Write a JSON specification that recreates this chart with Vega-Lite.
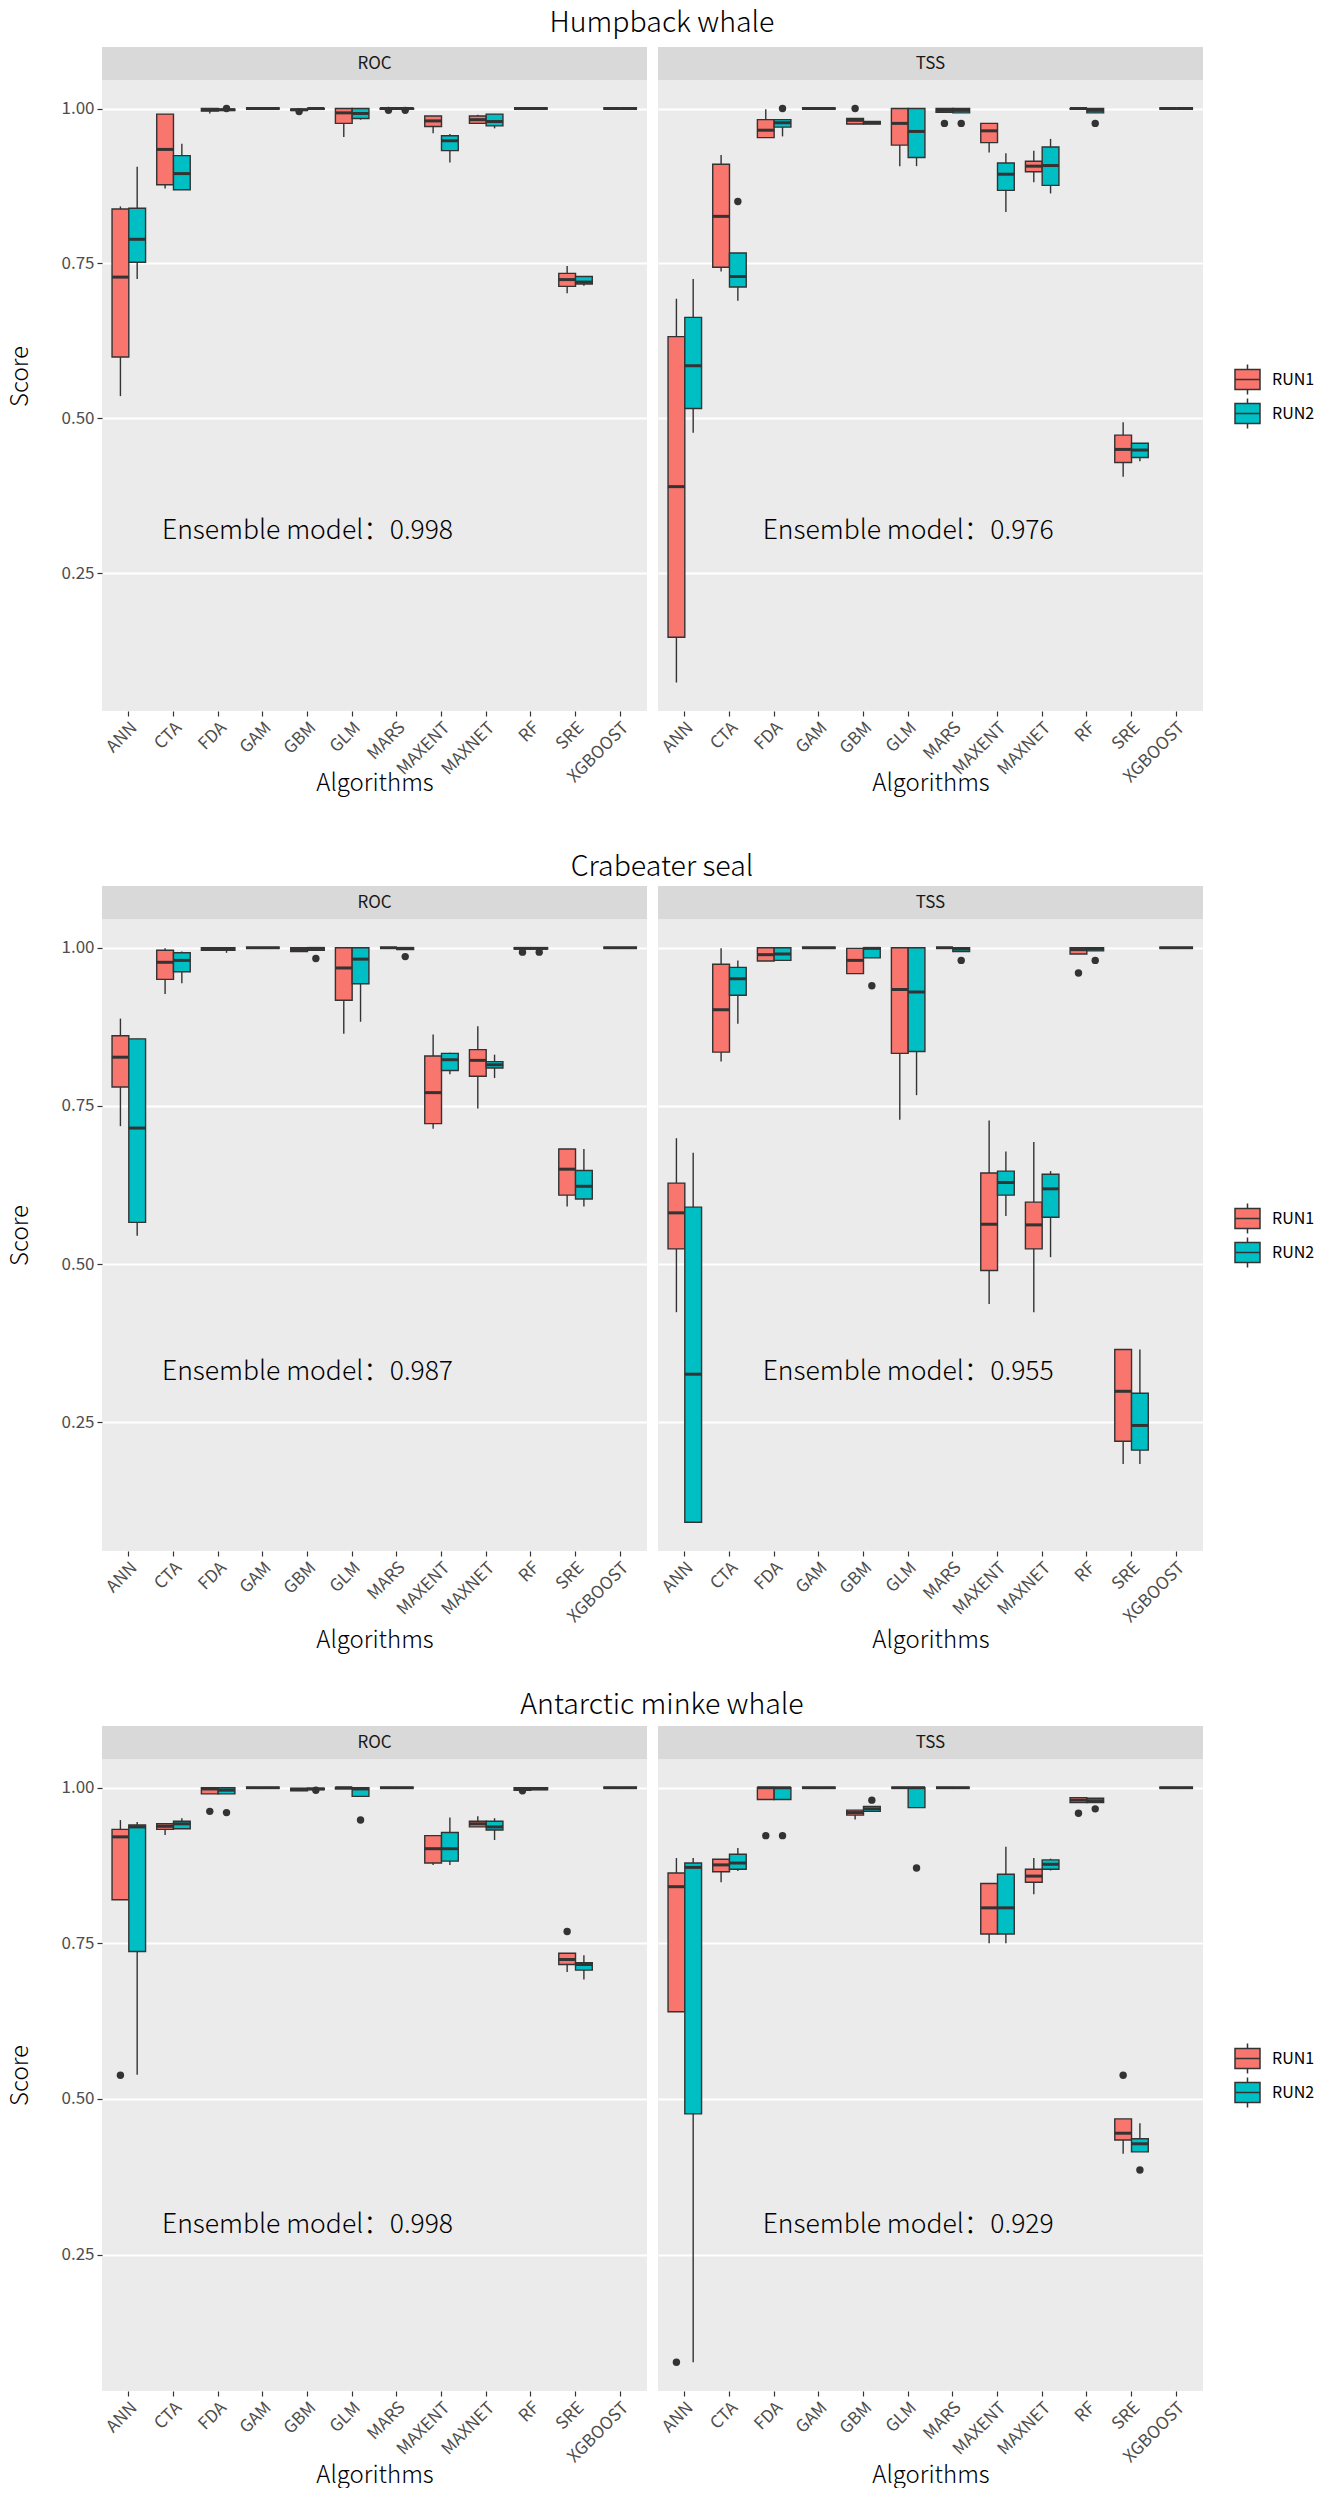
{
  "$schema": "https://vega.github.io/schema/vega-lite/v6.json",
  "background": "#FFFFFF",
  "padding": {"left": 8, "top": 8, "right": 0, "bottom": 0},
  "data": {"name": "d"},
  "config": {
    "font": "Noto Sans CJK SC",
    "view": {"stroke": null},
    "axis": {"domain": false, "tickColor": "#333333", "tickSize": 5, "tickWidth": 1.2, "labelColor": "#4D4D4D", "labelFontSize": 17, "labelPadding": 3, "titleFontSize": 24, "titleFontWeight": 300, "titleColor": "#000000", "gridColor": "#FFFFFF", "gridWidth": 2},
    "axisX": {"labelAngle": -45, "labelAlign": "right", "labelBaseline": "top", "bandPosition": 0.5},
    "legend": {"title": null, "orient": "none", "legendX": 1132, "legendY": 319, "symbolType": "M-1,-0.8H1V0.8H-1Z M-1,0H1 M0,-0.8V-1.2 M0,0.8V1.2", "symbolSize": 625, "symbolStrokeColor": "#333333", "symbolStrokeWidth": 1.5, "labelFontSize": 16, "labelColor": "#000000", "rowPadding": -3, "labelOffset": 11}
  },
  "datasets": {
    "d": [
      {"s":"H","m":"ROC","a":"ANN","r":"RUN1","lo":0.536,"q1":0.599,"md":0.728,"q3":0.838,"hi":0.842},
      {"s":"H","m":"ROC","a":"ANN","r":"RUN2","lo":0.725,"q1":0.752,"md":0.789,"q3":0.839,"hi":0.906},
      {"s":"H","m":"ROC","a":"CTA","r":"RUN1","lo":0.871,"q1":0.877,"md":0.934,"q3":0.991,"hi":0.991},
      {"s":"H","m":"ROC","a":"CTA","r":"RUN2","lo":0.869,"q1":0.869,"md":0.895,"q3":0.924,"hi":0.943},
      {"s":"H","m":"ROC","a":"FDA","r":"RUN1","lo":0.992,"q1":0.996,"md":0.998,"q3":1,"hi":1},
      {"s":"H","m":"ROC","a":"FDA","r":"RUN2","lo":0.997,"q1":0.997,"md":0.998,"q3":0.999,"hi":0.999},
      {"s":"H","m":"ROC","a":"FDA","r":"RUN2","o":1},
      {"s":"H","m":"ROC","a":"GAM","r":"RUN1","lo":1,"q1":1,"md":1,"q3":1,"hi":1},
      {"s":"H","m":"ROC","a":"GAM","r":"RUN2","lo":1,"q1":1,"md":1,"q3":1,"hi":1},
      {"s":"H","m":"ROC","a":"GBM","r":"RUN1","lo":0.997,"q1":0.997,"md":0.998,"q3":0.999,"hi":0.999},
      {"s":"H","m":"ROC","a":"GBM","r":"RUN1","o":0.995},
      {"s":"H","m":"ROC","a":"GBM","r":"RUN2","lo":0.999,"q1":0.999,"md":1,"q3":1,"hi":1},
      {"s":"H","m":"ROC","a":"GLM","r":"RUN1","lo":0.954,"q1":0.976,"md":0.993,"q3":1,"hi":1},
      {"s":"H","m":"ROC","a":"GLM","r":"RUN2","lo":0.982,"q1":0.984,"md":0.992,"q3":1,"hi":1},
      {"s":"H","m":"ROC","a":"MARS","r":"RUN1","lo":0.999,"q1":0.999,"md":1,"q3":1,"hi":1},
      {"s":"H","m":"ROC","a":"MARS","r":"RUN1","o":0.997},
      {"s":"H","m":"ROC","a":"MARS","r":"RUN2","lo":0.999,"q1":0.999,"md":1,"q3":1,"hi":1},
      {"s":"H","m":"ROC","a":"MARS","r":"RUN2","o":0.997},
      {"s":"H","m":"ROC","a":"MAXENT","r":"RUN1","lo":0.960,"q1":0.971,"md":0.980,"q3":0.988,"hi":0.988},
      {"s":"H","m":"ROC","a":"MAXENT","r":"RUN2","lo":0.913,"q1":0.932,"md":0.948,"q3":0.956,"hi":0.959},
      {"s":"H","m":"ROC","a":"MAXNET","r":"RUN1","lo":0.976,"q1":0.976,"md":0.982,"q3":0.988,"hi":0.990},
      {"s":"H","m":"ROC","a":"MAXNET","r":"RUN2","lo":0.968,"q1":0.972,"md":0.979,"q3":0.991,"hi":0.991},
      {"s":"H","m":"ROC","a":"RF","r":"RUN1","lo":1,"q1":1,"md":1,"q3":1,"hi":1},
      {"s":"H","m":"ROC","a":"RF","r":"RUN2","lo":1,"q1":1,"md":1,"q3":1,"hi":1},
      {"s":"H","m":"ROC","a":"SRE","r":"RUN1","lo":0.702,"q1":0.713,"md":0.724,"q3":0.734,"hi":0.746},
      {"s":"H","m":"ROC","a":"SRE","r":"RUN2","lo":0.714,"q1":0.717,"md":0.720,"q3":0.729,"hi":0.729},
      {"s":"H","m":"ROC","a":"XGBOOST","r":"RUN1","lo":1,"q1":1,"md":1,"q3":1,"hi":1},
      {"s":"H","m":"ROC","a":"XGBOOST","r":"RUN2","lo":1,"q1":1,"md":1,"q3":1,"hi":1},
      {"s":"H","m":"ROC","a":"GBM","ty":0.318,"t":"Ensemble model：0.998"},

      {"s":"H","m":"TSS","a":"ANN","r":"RUN1","lo":0.074,"q1":0.147,"md":0.390,"q3":0.632,"hi":0.693},
      {"s":"H","m":"TSS","a":"ANN","r":"RUN2","lo":0.477,"q1":0.516,"md":0.585,"q3":0.663,"hi":0.725},
      {"s":"H","m":"TSS","a":"CTA","r":"RUN1","lo":0.737,"q1":0.744,"md":0.826,"q3":0.910,"hi":0.925},
      {"s":"H","m":"TSS","a":"CTA","r":"RUN2","lo":0.690,"q1":0.712,"md":0.729,"q3":0.767,"hi":0.767},
      {"s":"H","m":"TSS","a":"CTA","r":"RUN2","o":0.850},
      {"s":"H","m":"TSS","a":"FDA","r":"RUN1","lo":0.953,"q1":0.953,"md":0.965,"q3":0.982,"hi":0.999},
      {"s":"H","m":"TSS","a":"FDA","r":"RUN2","lo":0.955,"q1":0.970,"md":0.977,"q3":0.982,"hi":0.982},
      {"s":"H","m":"TSS","a":"FDA","r":"RUN2","o":1},
      {"s":"H","m":"TSS","a":"GAM","r":"RUN1","lo":1,"q1":1,"md":1,"q3":1,"hi":1},
      {"s":"H","m":"TSS","a":"GAM","r":"RUN2","lo":1,"q1":1,"md":1,"q3":1,"hi":1},
      {"s":"H","m":"TSS","a":"GBM","r":"RUN1","lo":0.975,"q1":0.975,"md":0.981,"q3":0.984,"hi":0.984},
      {"s":"H","m":"TSS","a":"GBM","r":"RUN1","o":1},
      {"s":"H","m":"TSS","a":"GBM","r":"RUN2","lo":0.975,"q1":0.975,"md":0.977,"q3":0.979,"hi":0.979},
      {"s":"H","m":"TSS","a":"GLM","r":"RUN1","lo":0.907,"q1":0.941,"md":0.976,"q3":1,"hi":1},
      {"s":"H","m":"TSS","a":"GLM","r":"RUN2","lo":0.907,"q1":0.921,"md":0.963,"q3":1,"hi":1},
      {"s":"H","m":"TSS","a":"MARS","r":"RUN1","lo":0.994,"q1":0.994,"md":0.997,"q3":1,"hi":1},
      {"s":"H","m":"TSS","a":"MARS","r":"RUN1","o":0.976},
      {"s":"H","m":"TSS","a":"MARS","r":"RUN2","lo":0.993,"q1":0.993,"md":0.997,"q3":1,"hi":1},
      {"s":"H","m":"TSS","a":"MARS","r":"RUN2","o":0.976},
      {"s":"H","m":"TSS","a":"MAXENT","r":"RUN1","lo":0.929,"q1":0.945,"md":0.964,"q3":0.976,"hi":0.976},
      {"s":"H","m":"TSS","a":"MAXENT","r":"RUN2","lo":0.833,"q1":0.868,"md":0.894,"q3":0.912,"hi":0.928},
      {"s":"H","m":"TSS","a":"MAXNET","r":"RUN1","lo":0.881,"q1":0.898,"md":0.907,"q3":0.915,"hi":0.932},
      {"s":"H","m":"TSS","a":"MAXNET","r":"RUN2","lo":0.863,"q1":0.876,"md":0.908,"q3":0.938,"hi":0.951},
      {"s":"H","m":"TSS","a":"RF","r":"RUN1","lo":0.999,"q1":0.999,"md":1,"q3":1,"hi":1},
      {"s":"H","m":"TSS","a":"RF","r":"RUN2","lo":0.993,"q1":0.993,"md":0.997,"q3":1,"hi":1},
      {"s":"H","m":"TSS","a":"RF","r":"RUN2","o":0.976},
      {"s":"H","m":"TSS","a":"SRE","r":"RUN1","lo":0.406,"q1":0.429,"md":0.450,"q3":0.473,"hi":0.494},
      {"s":"H","m":"TSS","a":"SRE","r":"RUN2","lo":0.431,"q1":0.437,"md":0.449,"q3":0.460,"hi":0.460},
      {"s":"H","m":"TSS","a":"XGBOOST","r":"RUN1","lo":1,"q1":1,"md":1,"q3":1,"hi":1},
      {"s":"H","m":"TSS","a":"XGBOOST","r":"RUN2","lo":1,"q1":1,"md":1,"q3":1,"hi":1},
      {"s":"H","m":"TSS","a":"GLM","ty":0.318,"t":"Ensemble model：0.976"},

      {"s":"C","m":"ROC","a":"ANN","r":"RUN1","lo":0.718,"q1":0.780,"md":0.827,"q3":0.861,"hi":0.888},
      {"s":"C","m":"ROC","a":"ANN","r":"RUN2","lo":0.545,"q1":0.566,"md":0.715,"q3":0.856,"hi":0.856},
      {"s":"C","m":"ROC","a":"CTA","r":"RUN1","lo":0.927,"q1":0.950,"md":0.977,"q3":0.996,"hi":0.999},
      {"s":"C","m":"ROC","a":"CTA","r":"RUN2","lo":0.944,"q1":0.962,"md":0.980,"q3":0.992,"hi":0.994},
      {"s":"C","m":"ROC","a":"FDA","r":"RUN1","lo":0.995,"q1":0.996,"md":0.998,"q3":1,"hi":1},
      {"s":"C","m":"ROC","a":"FDA","r":"RUN2","lo":0.992,"q1":0.996,"md":0.998,"q3":1,"hi":1},
      {"s":"C","m":"ROC","a":"GAM","r":"RUN1","lo":1,"q1":1,"md":1,"q3":1,"hi":1},
      {"s":"C","m":"ROC","a":"GAM","r":"RUN2","lo":1,"q1":1,"md":1,"q3":1,"hi":1},
      {"s":"C","m":"ROC","a":"GBM","r":"RUN1","lo":0.994,"q1":0.994,"md":0.997,"q3":1,"hi":1},
      {"s":"C","m":"ROC","a":"GBM","r":"RUN2","lo":0.996,"q1":0.996,"md":0.999,"q3":1,"hi":1},
      {"s":"C","m":"ROC","a":"GBM","r":"RUN2","o":0.983},
      {"s":"C","m":"ROC","a":"GLM","r":"RUN1","lo":0.864,"q1":0.917,"md":0.968,"q3":1,"hi":1},
      {"s":"C","m":"ROC","a":"GLM","r":"RUN2","lo":0.883,"q1":0.943,"md":0.982,"q3":1,"hi":1},
      {"s":"C","m":"ROC","a":"MARS","r":"RUN1","lo":1,"q1":1,"md":1,"q3":1,"hi":1},
      {"s":"C","m":"ROC","a":"MARS","r":"RUN2","lo":0.997,"q1":0.997,"md":0.999,"q3":1,"hi":1},
      {"s":"C","m":"ROC","a":"MARS","r":"RUN2","o":0.986},
      {"s":"C","m":"ROC","a":"MAXENT","r":"RUN1","lo":0.714,"q1":0.722,"md":0.771,"q3":0.829,"hi":0.863},
      {"s":"C","m":"ROC","a":"MAXENT","r":"RUN2","lo":0.800,"q1":0.806,"md":0.823,"q3":0.833,"hi":0.834},
      {"s":"C","m":"ROC","a":"MAXNET","r":"RUN1","lo":0.746,"q1":0.797,"md":0.822,"q3":0.839,"hi":0.876},
      {"s":"C","m":"ROC","a":"MAXNET","r":"RUN2","lo":0.794,"q1":0.810,"md":0.815,"q3":0.820,"hi":0.831},
      {"s":"C","m":"ROC","a":"RF","r":"RUN1","lo":0.998,"q1":0.998,"md":0.999,"q3":1,"hi":1},
      {"s":"C","m":"ROC","a":"RF","r":"RUN1","o":0.993},
      {"s":"C","m":"ROC","a":"RF","r":"RUN2","lo":0.998,"q1":0.998,"md":0.999,"q3":1,"hi":1},
      {"s":"C","m":"ROC","a":"RF","r":"RUN2","o":0.993},
      {"s":"C","m":"ROC","a":"SRE","r":"RUN1","lo":0.591,"q1":0.609,"md":0.650,"q3":0.682,"hi":0.682},
      {"s":"C","m":"ROC","a":"SRE","r":"RUN2","lo":0.591,"q1":0.603,"md":0.623,"q3":0.648,"hi":0.682},
      {"s":"C","m":"ROC","a":"XGBOOST","r":"RUN1","lo":1,"q1":1,"md":1,"q3":1,"hi":1},
      {"s":"C","m":"ROC","a":"XGBOOST","r":"RUN2","lo":1,"q1":1,"md":1,"q3":1,"hi":1},
      {"s":"C","m":"ROC","a":"GBM","ty":0.33,"t":"Ensemble model：0.987"},

      {"s":"C","m":"TSS","a":"ANN","r":"RUN1","lo":0.424,"q1":0.524,"md":0.581,"q3":0.628,"hi":0.699},
      {"s":"C","m":"TSS","a":"ANN","r":"RUN2","lo":0.092,"q1":0.092,"md":0.326,"q3":0.590,"hi":0.676},
      {"s":"C","m":"TSS","a":"CTA","r":"RUN1","lo":0.820,"q1":0.835,"md":0.902,"q3":0.974,"hi":0.999},
      {"s":"C","m":"TSS","a":"CTA","r":"RUN2","lo":0.880,"q1":0.925,"md":0.951,"q3":0.969,"hi":0.980},
      {"s":"C","m":"TSS","a":"FDA","r":"RUN1","lo":0.979,"q1":0.979,"md":0.989,"q3":1,"hi":1},
      {"s":"C","m":"TSS","a":"FDA","r":"RUN2","lo":0.980,"q1":0.980,"md":0.990,"q3":1,"hi":1},
      {"s":"C","m":"TSS","a":"GAM","r":"RUN1","lo":1,"q1":1,"md":1,"q3":1,"hi":1},
      {"s":"C","m":"TSS","a":"GAM","r":"RUN2","lo":1,"q1":1,"md":1,"q3":1,"hi":1},
      {"s":"C","m":"TSS","a":"GBM","r":"RUN1","lo":0.959,"q1":0.959,"md":0.980,"q3":0.999,"hi":0.999},
      {"s":"C","m":"TSS","a":"GBM","r":"RUN2","lo":0.984,"q1":0.984,"md":0.999,"q3":1,"hi":1},
      {"s":"C","m":"TSS","a":"GBM","r":"RUN2","o":0.940},
      {"s":"C","m":"TSS","a":"GLM","r":"RUN1","lo":0.728,"q1":0.833,"md":0.934,"q3":1,"hi":1},
      {"s":"C","m":"TSS","a":"GLM","r":"RUN2","lo":0.767,"q1":0.836,"md":0.930,"q3":1,"hi":1},
      {"s":"C","m":"TSS","a":"MARS","r":"RUN1","lo":1,"q1":1,"md":1,"q3":1,"hi":1},
      {"s":"C","m":"TSS","a":"MARS","r":"RUN2","lo":0.994,"q1":0.994,"md":0.998,"q3":1,"hi":1},
      {"s":"C","m":"TSS","a":"MARS","r":"RUN2","o":0.980},
      {"s":"C","m":"TSS","a":"MAXENT","r":"RUN1","lo":0.437,"q1":0.490,"md":0.563,"q3":0.644,"hi":0.727},
      {"s":"C","m":"TSS","a":"MAXENT","r":"RUN2","lo":0.576,"q1":0.609,"md":0.629,"q3":0.647,"hi":0.678},
      {"s":"C","m":"TSS","a":"MAXNET","r":"RUN1","lo":0.424,"q1":0.524,"md":0.562,"q3":0.598,"hi":0.693},
      {"s":"C","m":"TSS","a":"MAXNET","r":"RUN2","lo":0.511,"q1":0.574,"md":0.619,"q3":0.642,"hi":0.647},
      {"s":"C","m":"TSS","a":"RF","r":"RUN1","lo":0.990,"q1":0.990,"md":0.997,"q3":1,"hi":1},
      {"s":"C","m":"TSS","a":"RF","r":"RUN1","o":0.960},
      {"s":"C","m":"TSS","a":"RF","r":"RUN2","lo":0.995,"q1":0.995,"md":0.998,"q3":1,"hi":1},
      {"s":"C","m":"TSS","a":"RF","r":"RUN2","o":0.980},
      {"s":"C","m":"TSS","a":"SRE","r":"RUN1","lo":0.184,"q1":0.220,"md":0.299,"q3":0.365,"hi":0.365},
      {"s":"C","m":"TSS","a":"SRE","r":"RUN2","lo":0.184,"q1":0.206,"md":0.245,"q3":0.296,"hi":0.365},
      {"s":"C","m":"TSS","a":"XGBOOST","r":"RUN1","lo":1,"q1":1,"md":1,"q3":1,"hi":1},
      {"s":"C","m":"TSS","a":"XGBOOST","r":"RUN2","lo":1,"q1":1,"md":1,"q3":1,"hi":1},
      {"s":"C","m":"TSS","a":"GLM","ty":0.33,"t":"Ensemble model：0.955"},

      {"s":"A","m":"ROC","a":"ANN","r":"RUN1","lo":0.820,"q1":0.820,"md":0.921,"q3":0.933,"hi":0.948},
      {"s":"A","m":"ROC","a":"ANN","r":"RUN1","o":0.538},
      {"s":"A","m":"ROC","a":"ANN","r":"RUN2","lo":0.539,"q1":0.737,"md":0.937,"q3":0.940,"hi":0.945},
      {"s":"A","m":"ROC","a":"CTA","r":"RUN1","lo":0.924,"q1":0.933,"md":0.938,"q3":0.942,"hi":0.942},
      {"s":"A","m":"ROC","a":"CTA","r":"RUN2","lo":0.934,"q1":0.934,"md":0.942,"q3":0.946,"hi":0.951},
      {"s":"A","m":"ROC","a":"FDA","r":"RUN1","lo":0.990,"q1":0.990,"md":0.998,"q3":1,"hi":1},
      {"s":"A","m":"ROC","a":"FDA","r":"RUN1","o":0.962},
      {"s":"A","m":"ROC","a":"FDA","r":"RUN2","lo":0.990,"q1":0.990,"md":0.996,"q3":1,"hi":1},
      {"s":"A","m":"ROC","a":"FDA","r":"RUN2","o":0.960},
      {"s":"A","m":"ROC","a":"GAM","r":"RUN1","lo":1,"q1":1,"md":1,"q3":1,"hi":1},
      {"s":"A","m":"ROC","a":"GAM","r":"RUN2","lo":1,"q1":1,"md":1,"q3":1,"hi":1},
      {"s":"A","m":"ROC","a":"GBM","r":"RUN1","lo":0.995,"q1":0.995,"md":0.997,"q3":0.999,"hi":0.999},
      {"s":"A","m":"ROC","a":"GBM","r":"RUN2","lo":0.997,"q1":0.997,"md":0.998,"q3":0.999,"hi":0.999},
      {"s":"A","m":"ROC","a":"GBM","r":"RUN2","o":0.996},
      {"s":"A","m":"ROC","a":"GLM","r":"RUN1","lo":0.998,"q1":0.998,"md":1,"q3":1,"hi":1},
      {"s":"A","m":"ROC","a":"GLM","r":"RUN2","lo":0.986,"q1":0.986,"md":0.998,"q3":1,"hi":1},
      {"s":"A","m":"ROC","a":"GLM","r":"RUN2","o":0.948},
      {"s":"A","m":"ROC","a":"MARS","r":"RUN1","lo":1,"q1":1,"md":1,"q3":1,"hi":1},
      {"s":"A","m":"ROC","a":"MARS","r":"RUN2","lo":1,"q1":1,"md":1,"q3":1,"hi":1},
      {"s":"A","m":"ROC","a":"MAXENT","r":"RUN1","lo":0.876,"q1":0.879,"md":0.902,"q3":0.923,"hi":0.923},
      {"s":"A","m":"ROC","a":"MAXENT","r":"RUN2","lo":0.876,"q1":0.882,"md":0.902,"q3":0.928,"hi":0.952},
      {"s":"A","m":"ROC","a":"MAXNET","r":"RUN1","lo":0.937,"q1":0.937,"md":0.942,"q3":0.946,"hi":0.954},
      {"s":"A","m":"ROC","a":"MAXNET","r":"RUN2","lo":0.916,"q1":0.932,"md":0.937,"q3":0.946,"hi":0.951},
      {"s":"A","m":"ROC","a":"RF","r":"RUN1","lo":0.996,"q1":0.996,"md":0.998,"q3":1,"hi":1},
      {"s":"A","m":"ROC","a":"RF","r":"RUN1","o":0.995},
      {"s":"A","m":"ROC","a":"RF","r":"RUN2","lo":0.997,"q1":0.997,"md":0.998,"q3":1,"hi":1},
      {"s":"A","m":"ROC","a":"SRE","r":"RUN1","lo":0.704,"q1":0.716,"md":0.724,"q3":0.734,"hi":0.734},
      {"s":"A","m":"ROC","a":"SRE","r":"RUN1","o":0.769},
      {"s":"A","m":"ROC","a":"SRE","r":"RUN2","lo":0.692,"q1":0.707,"md":0.716,"q3":0.719,"hi":0.731},
      {"s":"A","m":"ROC","a":"XGBOOST","r":"RUN1","lo":1,"q1":1,"md":1,"q3":1,"hi":1},
      {"s":"A","m":"ROC","a":"XGBOOST","r":"RUN2","lo":1,"q1":1,"md":1,"q3":1,"hi":1},
      {"s":"A","m":"ROC","a":"GBM","ty":0.297,"t":"Ensemble model：0.998"},

      {"s":"A","m":"TSS","a":"ANN","r":"RUN1","lo":0.640,"q1":0.640,"md":0.841,"q3":0.863,"hi":0.887},
      {"s":"A","m":"TSS","a":"ANN","r":"RUN1","o":0.077},
      {"s":"A","m":"TSS","a":"ANN","r":"RUN2","lo":0.077,"q1":0.476,"md":0.872,"q3":0.879,"hi":0.887},
      {"s":"A","m":"TSS","a":"CTA","r":"RUN1","lo":0.848,"q1":0.865,"md":0.876,"q3":0.885,"hi":0.885},
      {"s":"A","m":"TSS","a":"CTA","r":"RUN2","lo":0.866,"q1":0.869,"md":0.879,"q3":0.893,"hi":0.903},
      {"s":"A","m":"TSS","a":"FDA","r":"RUN1","lo":0.981,"q1":0.981,"md":1,"q3":1,"hi":1},
      {"s":"A","m":"TSS","a":"FDA","r":"RUN1","o":0.923},
      {"s":"A","m":"TSS","a":"FDA","r":"RUN2","lo":0.981,"q1":0.981,"md":1,"q3":1,"hi":1},
      {"s":"A","m":"TSS","a":"FDA","r":"RUN2","o":0.923},
      {"s":"A","m":"TSS","a":"GAM","r":"RUN1","lo":1,"q1":1,"md":1,"q3":1,"hi":1},
      {"s":"A","m":"TSS","a":"GAM","r":"RUN2","lo":1,"q1":1,"md":1,"q3":1,"hi":1},
      {"s":"A","m":"TSS","a":"GBM","r":"RUN1","lo":0.949,"q1":0.956,"md":0.960,"q3":0.964,"hi":0.964},
      {"s":"A","m":"TSS","a":"GBM","r":"RUN2","lo":0.962,"q1":0.962,"md":0.966,"q3":0.970,"hi":0.970},
      {"s":"A","m":"TSS","a":"GBM","r":"RUN2","o":0.980},
      {"s":"A","m":"TSS","a":"GLM","r":"RUN1","lo":1,"q1":1,"md":1,"q3":1,"hi":1},
      {"s":"A","m":"TSS","a":"GLM","r":"RUN2","lo":0.968,"q1":0.968,"md":1,"q3":1,"hi":1},
      {"s":"A","m":"TSS","a":"GLM","r":"RUN2","o":0.871},
      {"s":"A","m":"TSS","a":"MARS","r":"RUN1","lo":1,"q1":1,"md":1,"q3":1,"hi":1},
      {"s":"A","m":"TSS","a":"MARS","r":"RUN2","lo":1,"q1":1,"md":1,"q3":1,"hi":1},
      {"s":"A","m":"TSS","a":"MAXENT","r":"RUN1","lo":0.750,"q1":0.765,"md":0.807,"q3":0.846,"hi":0.846},
      {"s":"A","m":"TSS","a":"MAXENT","r":"RUN2","lo":0.750,"q1":0.765,"md":0.807,"q3":0.861,"hi":0.905},
      {"s":"A","m":"TSS","a":"MAXNET","r":"RUN1","lo":0.829,"q1":0.848,"md":0.858,"q3":0.869,"hi":0.887},
      {"s":"A","m":"TSS","a":"MAXNET","r":"RUN2","lo":0.867,"q1":0.869,"md":0.877,"q3":0.884,"hi":0.886},
      {"s":"A","m":"TSS","a":"RF","r":"RUN1","lo":0.976,"q1":0.976,"md":0.980,"q3":0.984,"hi":0.984},
      {"s":"A","m":"TSS","a":"RF","r":"RUN1","o":0.959},
      {"s":"A","m":"TSS","a":"RF","r":"RUN2","lo":0.976,"q1":0.976,"md":0.979,"q3":0.983,"hi":0.983},
      {"s":"A","m":"TSS","a":"RF","r":"RUN2","o":0.966},
      {"s":"A","m":"TSS","a":"SRE","r":"RUN1","lo":0.412,"q1":0.434,"md":0.445,"q3":0.468,"hi":0.468},
      {"s":"A","m":"TSS","a":"SRE","r":"RUN1","o":0.538},
      {"s":"A","m":"TSS","a":"SRE","r":"RUN2","lo":0.415,"q1":0.415,"md":0.428,"q3":0.436,"hi":0.461},
      {"s":"A","m":"TSS","a":"SRE","r":"RUN2","o":0.386},
      {"s":"A","m":"TSS","a":"XGBOOST","r":"RUN1","lo":1,"q1":1,"md":1,"q3":1,"hi":1},
      {"s":"A","m":"TSS","a":"XGBOOST","r":"RUN2","lo":1,"q1":1,"md":1,"q3":1,"hi":1},
      {"s":"A","m":"TSS","a":"GLM","ty":0.297,"t":"Ensemble model：0.929"}
    ]
  },
  "resolve": {"legend": {"color": "independent"}},
  "spacing": 56,
  "vconcat": [
    {
      "title": {"text": "Humpback whale", "fontSize": 28.5, "fontWeight": 300, "color": "#000000", "anchor": "middle", "offset": 10},
      "spacing": 11,
      "hconcat": [
        {
          "spacing": 0,
          "vconcat": [
            {"width": 545, "height": 33, "view": {"fill": "#D9D9D9"}, "data": {"values": [{"f": "ROC"}]}, "mark": {"type": "text", "fontSize": 17, "color": "#1A1A1A"}, "encoding": {"text": {"field": "f"}}},
            {
              "width": 545, "height": 631, "view": {"fill": "#EBEBEB"},
              "transform": [{"filter": "datum.s === 'H' && datum.m === 'ROC'"}],
              "resolve": {"axis": {"y": "independent"}},
              "layer": [
                {"mark": {"type": "rule", "color": "#333333", "strokeWidth": 1.4},
                 "encoding": {
                   "x": {"field": "a", "type": "nominal", "title": "Algorithms", "scale": {"domain": ["ANN","CTA","FDA","GAM","GBM","GLM","MARS","MAXENT","MAXNET","RF","SRE","XGBOOST"], "paddingInner": 0, "paddingOuter": 0.1}, "axis": {"titlePadding": -14}},
                   "xOffset": {"field": "r", "type": "nominal", "scale": {"domain": ["RUN1","RUN2"], "paddingInner": 0, "paddingOuter": 0.333}},
                   "y": {"field": "lo", "type": "quantitative", "scale": {"domain": [0.028, 1.046], "nice": false, "zero": false}, "axis": {"values": [0.25,0.5,0.75,1], "format": ".2f", "title": "Score", "titlePadding": 28, "titleY": 296}},
                   "y2": {"field": "hi"}}},
                {"mark": {"type": "bar", "stroke": "#333333", "strokeWidth": 1.4},
                 "encoding": {
                   "x": {"field": "a", "type": "nominal"},
                   "xOffset": {"field": "r", "type": "nominal"},
                   "y": {"field": "q1", "type": "quantitative", "axis": {"orient": "right", "values": [0.125,0.375,0.625,0.875], "labels": false, "ticks": false, "title": null, "gridWidth": 1}},
                   "y2": {"field": "q3"},
                   "color": {"field": "r", "type": "nominal", "scale": {"domain": ["RUN1","RUN2"], "range": ["#F8766D","#00BFC4"]}, "legend": {"symbolType": "M-1,-0.8H1V0.8H-1Z M-1,0H1 M0,-0.8V-1.2 M0,0.8V1.2", "symbolStrokeColor": "#333333"}}}},
                {"mark": {"type": "tick", "color": "#333333", "thickness": 3, "size": 17, "opacity": 1},
                 "encoding": {"x": {"field": "a", "type": "nominal"}, "xOffset": {"field": "r", "type": "nominal"}, "y": {"field": "md", "type": "quantitative", "axis": null}}},
                {"mark": {"type": "point", "filled": true, "color": "#333333", "size": 55, "opacity": 1},
                 "encoding": {"x": {"field": "a", "type": "nominal"}, "xOffset": {"field": "r", "type": "nominal"}, "y": {"field": "o", "type": "quantitative", "axis": null}}},
                {"mark": {"type": "text", "fontSize": 26.5, "fontWeight": 300, "color": "#000000"},
                 "encoding": {"x": {"field": "a", "type": "nominal"}, "y": {"field": "ty", "type": "quantitative", "axis": null}, "text": {"field": "t"}}}
              ]
            }
          ]
        },
        {
          "spacing": 0,
          "vconcat": [
            {"width": 545, "height": 33, "view": {"fill": "#D9D9D9"}, "data": {"values": [{"f": "TSS"}]}, "mark": {"type": "text", "fontSize": 17, "color": "#1A1A1A"}, "encoding": {"text": {"field": "f"}}},
            {
              "width": 545, "height": 631, "view": {"fill": "#EBEBEB"},
              "transform": [{"filter": "datum.s === 'H' && datum.m === 'TSS'"}],
              "resolve": {"axis": {"y": "independent"}},
              "layer": [
                {"mark": {"type": "rule", "color": "#333333", "strokeWidth": 1.4},
                 "encoding": {
                   "x": {"field": "a", "type": "nominal", "title": "Algorithms", "scale": {"domain": ["ANN","CTA","FDA","GAM","GBM","GLM","MARS","MAXENT","MAXNET","RF","SRE","XGBOOST"], "paddingInner": 0, "paddingOuter": 0.1}, "axis": {"titlePadding": -14}},
                   "xOffset": {"field": "r", "type": "nominal", "scale": {"domain": ["RUN1","RUN2"], "paddingInner": 0, "paddingOuter": 0.333}},
                   "y": {"field": "lo", "type": "quantitative", "scale": {"domain": [0.028, 1.046], "nice": false, "zero": false}, "axis": {"values": [0.25,0.5,0.75,1], "labels": false, "ticks": false, "title": null}},
                   "y2": {"field": "hi"}}},
                {"mark": {"type": "bar", "stroke": "#333333", "strokeWidth": 1.4},
                 "encoding": {
                   "x": {"field": "a", "type": "nominal"},
                   "xOffset": {"field": "r", "type": "nominal"},
                   "y": {"field": "q1", "type": "quantitative", "axis": {"orient": "right", "values": [0.125,0.375,0.625,0.875], "labels": false, "ticks": false, "title": null, "gridWidth": 1}},
                   "y2": {"field": "q3"},
                   "color": {"field": "r", "type": "nominal", "scale": {"domain": ["RUN1","RUN2"], "range": ["#F8766D","#00BFC4"]}, "legend": {"symbolType": "M-1,-0.8H1V0.8H-1Z M-1,0H1 M0,-0.8V-1.2 M0,0.8V1.2", "symbolStrokeColor": "#333333"}}}},
                {"mark": {"type": "tick", "color": "#333333", "thickness": 3, "size": 17, "opacity": 1},
                 "encoding": {"x": {"field": "a", "type": "nominal"}, "xOffset": {"field": "r", "type": "nominal"}, "y": {"field": "md", "type": "quantitative", "axis": null}}},
                {"mark": {"type": "point", "filled": true, "color": "#333333", "size": 55, "opacity": 1},
                 "encoding": {"x": {"field": "a", "type": "nominal"}, "xOffset": {"field": "r", "type": "nominal"}, "y": {"field": "o", "type": "quantitative", "axis": null}}},
                {"mark": {"type": "text", "fontSize": 26.5, "fontWeight": 300, "color": "#000000"},
                 "encoding": {"x": {"field": "a", "type": "nominal"}, "y": {"field": "ty", "type": "quantitative", "axis": null}, "text": {"field": "t"}}}
              ]
            }
          ]
        }
      ]
    },
    {
      "spacing": 37,
      "resolve": {"legend": {"color": "independent"}},
      "vconcat": [
        {
          "title": {"text": "Crabeater seal", "fontSize": 28.5, "fontWeight": 300, "color": "#000000", "anchor": "middle", "offset": 5},
          "spacing": 11,
          "hconcat": [
            {
              "spacing": 0,
              "vconcat": [
                {"width": 545, "height": 33, "view": {"fill": "#D9D9D9"}, "data": {"values": [{"f": "ROC"}]}, "mark": {"type": "text", "fontSize": 17, "color": "#1A1A1A"}, "encoding": {"text": {"field": "f"}}},
                {
                  "width": 545, "height": 632, "view": {"fill": "#EBEBEB"},
                  "transform": [{"filter": "datum.s === 'C' && datum.m === 'ROC'"}],
                  "resolve": {"axis": {"y": "independent"}},
                  "layer": [
                    {"mark": {"type": "rule", "color": "#333333", "strokeWidth": 1.4},
                     "encoding": {
                       "x": {"field": "a", "type": "nominal", "title": "Algorithms", "scale": {"domain": ["ANN","CTA","FDA","GAM","GBM","GLM","MARS","MAXENT","MAXNET","RF","SRE","XGBOOST"], "paddingInner": 0, "paddingOuter": 0.1}, "axis": {"titlePadding": 3}},
                       "xOffset": {"field": "r", "type": "nominal", "scale": {"domain": ["RUN1","RUN2"], "paddingInner": 0, "paddingOuter": 0.333}},
                       "y": {"field": "lo", "type": "quantitative", "scale": {"domain": [0.0466, 1.0454], "nice": false, "zero": false}, "axis": {"values": [0.25,0.5,0.75,1], "format": ".2f", "title": "Score", "titlePadding": 28}},
                       "y2": {"field": "hi"}}},
                    {"mark": {"type": "bar", "stroke": "#333333", "strokeWidth": 1.4},
                     "encoding": {
                       "x": {"field": "a", "type": "nominal"},
                       "xOffset": {"field": "r", "type": "nominal"},
                       "y": {"field": "q1", "type": "quantitative", "axis": {"orient": "right", "values": [0.125,0.375,0.625,0.875], "labels": false, "ticks": false, "title": null, "gridWidth": 1}},
                       "y2": {"field": "q3"},
                       "color": {"field": "r", "type": "nominal", "scale": {"domain": ["RUN1","RUN2"], "range": ["#F8766D","#00BFC4"]}, "legend": {"symbolType": "M-1,-0.8H1V0.8H-1Z M-1,0H1 M0,-0.8V-1.2 M0,0.8V1.2", "symbolStrokeColor": "#333333"}}}},
                    {"mark": {"type": "tick", "color": "#333333", "thickness": 3, "size": 17, "opacity": 1},
                     "encoding": {"x": {"field": "a", "type": "nominal"}, "xOffset": {"field": "r", "type": "nominal"}, "y": {"field": "md", "type": "quantitative", "axis": null}}},
                    {"mark": {"type": "point", "filled": true, "color": "#333333", "size": 55, "opacity": 1},
                     "encoding": {"x": {"field": "a", "type": "nominal"}, "xOffset": {"field": "r", "type": "nominal"}, "y": {"field": "o", "type": "quantitative", "axis": null}}},
                    {"mark": {"type": "text", "fontSize": 26.5, "fontWeight": 300, "color": "#000000"},
                     "encoding": {"x": {"field": "a", "type": "nominal"}, "y": {"field": "ty", "type": "quantitative", "axis": null}, "text": {"field": "t"}}}
                  ]
                }
              ]
            },
            {
              "spacing": 0,
              "vconcat": [
                {"width": 545, "height": 33, "view": {"fill": "#D9D9D9"}, "data": {"values": [{"f": "TSS"}]}, "mark": {"type": "text", "fontSize": 17, "color": "#1A1A1A"}, "encoding": {"text": {"field": "f"}}},
                {
                  "width": 545, "height": 632, "view": {"fill": "#EBEBEB"},
                  "transform": [{"filter": "datum.s === 'C' && datum.m === 'TSS'"}],
                  "resolve": {"axis": {"y": "independent"}},
                  "layer": [
                    {"mark": {"type": "rule", "color": "#333333", "strokeWidth": 1.4},
                     "encoding": {
                       "x": {"field": "a", "type": "nominal", "title": "Algorithms", "scale": {"domain": ["ANN","CTA","FDA","GAM","GBM","GLM","MARS","MAXENT","MAXNET","RF","SRE","XGBOOST"], "paddingInner": 0, "paddingOuter": 0.1}, "axis": {"titlePadding": 3}},
                       "xOffset": {"field": "r", "type": "nominal", "scale": {"domain": ["RUN1","RUN2"], "paddingInner": 0, "paddingOuter": 0.333}},
                       "y": {"field": "lo", "type": "quantitative", "scale": {"domain": [0.0466, 1.0454], "nice": false, "zero": false}, "axis": {"values": [0.25,0.5,0.75,1], "labels": false, "ticks": false, "title": null}},
                       "y2": {"field": "hi"}}},
                    {"mark": {"type": "bar", "stroke": "#333333", "strokeWidth": 1.4},
                     "encoding": {
                       "x": {"field": "a", "type": "nominal"},
                       "xOffset": {"field": "r", "type": "nominal"},
                       "y": {"field": "q1", "type": "quantitative", "axis": {"orient": "right", "values": [0.125,0.375,0.625,0.875], "labels": false, "ticks": false, "title": null, "gridWidth": 1}},
                       "y2": {"field": "q3"},
                       "color": {"field": "r", "type": "nominal", "scale": {"domain": ["RUN1","RUN2"], "range": ["#F8766D","#00BFC4"]}, "legend": {"symbolType": "M-1,-0.8H1V0.8H-1Z M-1,0H1 M0,-0.8V-1.2 M0,0.8V1.2", "symbolStrokeColor": "#333333"}}}},
                    {"mark": {"type": "tick", "color": "#333333", "thickness": 3, "size": 17, "opacity": 1},
                     "encoding": {"x": {"field": "a", "type": "nominal"}, "xOffset": {"field": "r", "type": "nominal"}, "y": {"field": "md", "type": "quantitative", "axis": null}}},
                    {"mark": {"type": "point", "filled": true, "color": "#333333", "size": 55, "opacity": 1},
                     "encoding": {"x": {"field": "a", "type": "nominal"}, "xOffset": {"field": "r", "type": "nominal"}, "y": {"field": "o", "type": "quantitative", "axis": null}}},
                    {"mark": {"type": "text", "fontSize": 26.5, "fontWeight": 300, "color": "#000000"},
                     "encoding": {"x": {"field": "a", "type": "nominal"}, "y": {"field": "ty", "type": "quantitative", "axis": null}, "text": {"field": "t"}}}
                  ]
                }
              ]
            }
          ]
        },
        {
          "title": {"text": "Antarctic minke whale", "fontSize": 28.5, "fontWeight": 300, "color": "#000000", "anchor": "middle", "offset": 7},
          "spacing": 11,
          "hconcat": [
            {
              "spacing": 0,
              "vconcat": [
                {"width": 545, "height": 33, "view": {"fill": "#D9D9D9"}, "data": {"values": [{"f": "ROC"}]}, "mark": {"type": "text", "fontSize": 17, "color": "#1A1A1A"}, "encoding": {"text": {"field": "f"}}},
                {
                  "width": 545, "height": 632, "view": {"fill": "#EBEBEB"},
                  "transform": [{"filter": "datum.s === 'A' && datum.m === 'ROC'"}],
                  "resolve": {"axis": {"y": "independent"}},
                  "layer": [
                    {"mark": {"type": "rule", "color": "#333333", "strokeWidth": 1.4},
                     "encoding": {
                       "x": {"field": "a", "type": "nominal", "title": "Algorithms", "scale": {"domain": ["ANN","CTA","FDA","GAM","GBM","GLM","MARS","MAXENT","MAXNET","RF","SRE","XGBOOST"], "paddingInner": 0, "paddingOuter": 0.1}, "axis": {"titlePadding": -2}},
                       "xOffset": {"field": "r", "type": "nominal", "scale": {"domain": ["RUN1","RUN2"], "paddingInner": 0, "paddingOuter": 0.333}},
                       "y": {"field": "lo", "type": "quantitative", "scale": {"domain": [0.0309, 1.0461], "nice": false, "zero": false}, "axis": {"values": [0.25,0.5,0.75,1], "format": ".2f", "title": "Score", "titlePadding": 28}},
                       "y2": {"field": "hi"}}},
                    {"mark": {"type": "bar", "stroke": "#333333", "strokeWidth": 1.4},
                     "encoding": {
                       "x": {"field": "a", "type": "nominal"},
                       "xOffset": {"field": "r", "type": "nominal"},
                       "y": {"field": "q1", "type": "quantitative", "axis": {"orient": "right", "values": [0.125,0.375,0.625,0.875], "labels": false, "ticks": false, "title": null, "gridWidth": 1}},
                       "y2": {"field": "q3"},
                       "color": {"field": "r", "type": "nominal", "scale": {"domain": ["RUN1","RUN2"], "range": ["#F8766D","#00BFC4"]}, "legend": {"symbolType": "M-1,-0.8H1V0.8H-1Z M-1,0H1 M0,-0.8V-1.2 M0,0.8V1.2", "symbolStrokeColor": "#333333"}}}},
                    {"mark": {"type": "tick", "color": "#333333", "thickness": 3, "size": 17, "opacity": 1},
                     "encoding": {"x": {"field": "a", "type": "nominal"}, "xOffset": {"field": "r", "type": "nominal"}, "y": {"field": "md", "type": "quantitative", "axis": null}}},
                    {"mark": {"type": "point", "filled": true, "color": "#333333", "size": 55, "opacity": 1},
                     "encoding": {"x": {"field": "a", "type": "nominal"}, "xOffset": {"field": "r", "type": "nominal"}, "y": {"field": "o", "type": "quantitative", "axis": null}}},
                    {"mark": {"type": "text", "fontSize": 26.5, "fontWeight": 300, "color": "#000000"},
                     "encoding": {"x": {"field": "a", "type": "nominal"}, "y": {"field": "ty", "type": "quantitative", "axis": null}, "text": {"field": "t"}}}
                  ]
                }
              ]
            },
            {
              "spacing": 0,
              "vconcat": [
                {"width": 545, "height": 33, "view": {"fill": "#D9D9D9"}, "data": {"values": [{"f": "TSS"}]}, "mark": {"type": "text", "fontSize": 17, "color": "#1A1A1A"}, "encoding": {"text": {"field": "f"}}},
                {
                  "width": 545, "height": 632, "view": {"fill": "#EBEBEB"},
                  "transform": [{"filter": "datum.s === 'A' && datum.m === 'TSS'"}],
                  "resolve": {"axis": {"y": "independent"}},
                  "layer": [
                    {"mark": {"type": "rule", "color": "#333333", "strokeWidth": 1.4},
                     "encoding": {
                       "x": {"field": "a", "type": "nominal", "title": "Algorithms", "scale": {"domain": ["ANN","CTA","FDA","GAM","GBM","GLM","MARS","MAXENT","MAXNET","RF","SRE","XGBOOST"], "paddingInner": 0, "paddingOuter": 0.1}, "axis": {"titlePadding": -2}},
                       "xOffset": {"field": "r", "type": "nominal", "scale": {"domain": ["RUN1","RUN2"], "paddingInner": 0, "paddingOuter": 0.333}},
                       "y": {"field": "lo", "type": "quantitative", "scale": {"domain": [0.0309, 1.0461], "nice": false, "zero": false}, "axis": {"values": [0.25,0.5,0.75,1], "labels": false, "ticks": false, "title": null}},
                       "y2": {"field": "hi"}}},
                    {"mark": {"type": "bar", "stroke": "#333333", "strokeWidth": 1.4},
                     "encoding": {
                       "x": {"field": "a", "type": "nominal"},
                       "xOffset": {"field": "r", "type": "nominal"},
                       "y": {"field": "q1", "type": "quantitative", "axis": {"orient": "right", "values": [0.125,0.375,0.625,0.875], "labels": false, "ticks": false, "title": null, "gridWidth": 1}},
                       "y2": {"field": "q3"},
                       "color": {"field": "r", "type": "nominal", "scale": {"domain": ["RUN1","RUN2"], "range": ["#F8766D","#00BFC4"]}, "legend": {"symbolType": "M-1,-0.8H1V0.8H-1Z M-1,0H1 M0,-0.8V-1.2 M0,0.8V1.2", "symbolStrokeColor": "#333333"}}}},
                    {"mark": {"type": "tick", "color": "#333333", "thickness": 3, "size": 17, "opacity": 1},
                     "encoding": {"x": {"field": "a", "type": "nominal"}, "xOffset": {"field": "r", "type": "nominal"}, "y": {"field": "md", "type": "quantitative", "axis": null}}},
                    {"mark": {"type": "point", "filled": true, "color": "#333333", "size": 55, "opacity": 1},
                     "encoding": {"x": {"field": "a", "type": "nominal"}, "xOffset": {"field": "r", "type": "nominal"}, "y": {"field": "o", "type": "quantitative", "axis": null}}},
                    {"mark": {"type": "text", "fontSize": 26.5, "fontWeight": 300, "color": "#000000"},
                     "encoding": {"x": {"field": "a", "type": "nominal"}, "y": {"field": "ty", "type": "quantitative", "axis": null}, "text": {"field": "t"}}}
                  ]
                }
              ]
            }
          ]
        }
      ]
    }
  ]
}
